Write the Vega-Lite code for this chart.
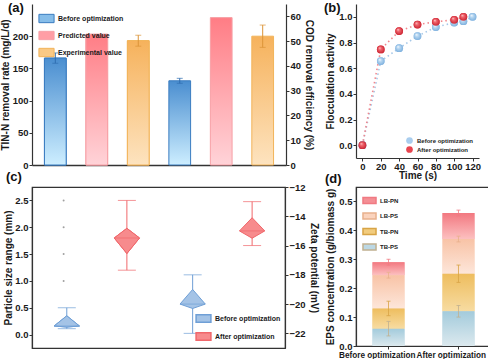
{
"$schema": "https://vega.github.io/schema/vega-lite/v6.json",
"padding": {"left": 0, "top": 2, "right": 0, "bottom": 0},
"background": "white",
"columns": 2,
"bounds": "flush",
"spacing": {"row": 22, "column": 70},
"resolve": {"scale": {"fill": "independent", "stroke": "independent", "color": "independent"}},
"config": {
  "font": "Liberation Sans",
  "view": {"stroke": null},
  "axis": {"grid": false, "labelFont": "Liberation Sans", "labelFontWeight": "bold", "labelFontSize": 9.5, "labelColor": "#1a1a1a", "titleFont": "Liberation Sans", "titleFontWeight": "bold", "titleFontSize": 10, "titleColor": "#1a1a1a", "domainColor": "#333333", "domainWidth": 1.2, "tickColor": "#333333", "tickWidth": 1, "tickSize": 3, "labelPadding": 1, "titlePadding": 1, "labelOverlap": false, "labelFlush": false},
  "legend": {"labelFont": "Liberation Sans", "labelFontWeight": "bold", "labelFontSize": 7, "labelColor": "#1a1a1a", "padding": 0, "rowPadding": 2, "labelOffset": 3, "labelLimit": 200},
  "title": {"font": "Liberation Sans", "fontWeight": "bold", "fontSize": 13, "anchor": "start", "color": "#111111", "baseline": "bottom", "offset": 0, "frame": "group"}
},
"datasets": {
  "aData": [
    {"metric": "TIN", "cat": "T1", "series": "Before optimization", "value": 166, "err": 8},
    {"metric": "TIN", "cat": "T2", "series": "Predicted value", "value": 203, "err": 0},
    {"metric": "TIN", "cat": "T3", "series": "Experimental value", "value": 193, "err": 8.5},
    {"metric": "COD", "cat": "C1", "series": "Before optimization", "value": 34, "err": 1},
    {"metric": "COD", "cat": "C2", "series": "Predicted value", "value": 59.5, "err": 0},
    {"metric": "COD", "cat": "C3", "series": "Experimental value", "value": 52, "err": 4.5}
  ],
  "bData": [
    {"s": "Before optimization", "t": 0, "v": 0},
    {"s": "Before optimization", "t": 20, "v": 0.655},
    {"s": "Before optimization", "t": 40, "v": 0.756},
    {"s": "Before optimization", "t": 60, "v": 0.85},
    {"s": "Before optimization", "t": 80, "v": 0.92},
    {"s": "Before optimization", "t": 100, "v": 0.955},
    {"s": "Before optimization", "t": 110, "v": 0.966},
    {"s": "Before optimization", "t": 120, "v": 1.0},
    {"s": "After optimization", "t": 0, "v": 0},
    {"s": "After optimization", "t": 20, "v": 0.746},
    {"s": "After optimization", "t": 40, "v": 0.889},
    {"s": "After optimization", "t": 60, "v": 0.94},
    {"s": "After optimization", "t": 80, "v": 0.961},
    {"s": "After optimization", "t": 100, "v": 0.977},
    {"s": "After optimization", "t": 110, "v": 1.0}
  ],
  "cDiaS": [
    {"g": "Before optimization", "x": 0.35, "hi": 0.16, "lo": 0.16},
    {"g": "Before optimization", "x": 0.55, "hi": 0.35, "lo": 0.14},
    {"g": "Before optimization", "x": 0.75, "hi": 0.16, "lo": 0.16},
    {"g": "After optimization", "x": 1.3, "hi": 1.8, "lo": 1.8},
    {"g": "After optimization", "x": 1.5, "hi": 1.98, "lo": 1.51},
    {"g": "After optimization", "x": 1.7, "hi": 1.8, "lo": 1.8}
  ],
  "cBoxS": [
    {"grp": "Before optimization", "x": 0.55, "min": 0.11, "max": 0.5, "med": 0.16},
    {"grp": "After optimization", "x": 1.5, "min": 1.2, "max": 2.5, "med": 1.8}
  ],
  "cOut": [
    {"x": 0.5, "y": 1.0},
    {"x": 0.5, "y": 1.5},
    {"x": 0.5, "y": 2.0},
    {"x": 0.5, "y": 2.5}
  ],
  "cDiaZ": [
    {"g": "Before optimization", "x": 2.34, "hi": -20, "lo": -20},
    {"g": "Before optimization", "x": 2.54, "hi": -19, "lo": -20.3},
    {"g": "Before optimization", "x": 2.74, "hi": -20, "lo": -20},
    {"g": "After optimization", "x": 3.28, "hi": -15, "lo": -15},
    {"g": "After optimization", "x": 3.48, "hi": -14.1, "lo": -15.5},
    {"g": "After optimization", "x": 3.68, "hi": -15, "lo": -15}
  ],
  "cBoxZ": [
    {"grp": "Before optimization", "x": 2.54, "min": -22, "max": -18, "med": -20},
    {"grp": "After optimization", "x": 3.48, "min": -16, "max": -13, "med": -15}
  ],
  "dData": [
    {"opt": "Before optimization", "comp": "TB-PS", "v": 0.06, "e": 0.025},
    {"opt": "Before optimization", "comp": "TB-PN", "v": 0.07, "e": 0.025},
    {"opt": "Before optimization", "comp": "LB-PS", "v": 0.115, "e": 0.01},
    {"opt": "Before optimization", "comp": "LB-PN", "v": 0.045, "e": 0.01},
    {"opt": "After optimization", "comp": "TB-PS", "v": 0.12, "e": 0.02},
    {"opt": "After optimization", "comp": "TB-PN", "v": 0.13, "e": 0.03},
    {"opt": "After optimization", "comp": "LB-PS", "v": 0.12, "e": 0.01},
    {"opt": "After optimization", "comp": "LB-PN", "v": 0.09, "e": 0.01}
  ]
},
"concat": [
{
  "width": 254, "height": 161,
  "title": {"text": "(a)", "dx": -24, "dy": 15},
  "data": {"name": "aData"},
  "encoding": {"x": {"field": "cat", "type": "nominal", "sort": ["T1","T2","T3","C1","C2","C3"], "scale": {"paddingInner": 0.476, "paddingOuter": 0.3}, "axis": {"labels": false, "ticks": false, "title": null, "domainWidth": 1.5}}},
  "layer": [
    {"transform": [{"filter": "datum.metric === 'TIN'"}],
     "encoding": {"y": {"field": "value", "type": "quantitative", "title": "TIN-N removal rate (mg/L/d)", "scale": {"domain": [0, 250], "nice": false}, "axis": {"values": [0,50,100,150,200], "title": "TIN-N removal rate (mg/L/d)", "titlePadding": 2}}},
     "layer": [
      {"mark": {"type": "bar", "strokeWidth": 1},
       "encoding": {
         "fill": {"field": "series", "type": "nominal", "scale": {"domain": ["Before optimization","Predicted value","Experimental value"], "range": ["#86bde9","#ff9ea5","#f9c985"]}, "legend": {"orient": "top-left", "title": null, "symbolType": "M-1,-0.55H1V0.55H-1Z", "symbolSize": 230, "offset": 6, "labelFontSize": 7, "rowPadding": 2, "symbolStrokeWidth": 1}},
         "stroke": {"field": "series", "type": "nominal", "scale": {"domain": ["Before optimization","Predicted value","Experimental value"], "range": ["#3a7cc0","#f7a0a6","#f2b45a"]}, "legend": {"orient": "top-left", "title": null, "symbolType": "M-1,-0.55H1V0.55H-1Z", "symbolSize": 230, "offset": 6, "labelFontSize": 7, "rowPadding": 2, "symbolStrokeWidth": 1}}
       }},
      {"transform": [{"filter": "datum.series === 'Before optimization'"}], "mark": {"type": "bar", "strokeWidth": 1, "stroke": "#3a7cc0", "fill": {"gradient": "linear", "x1": 0, "y1": 0, "x2": 0, "y2": 1, "stops": [{"offset": 0, "color": "#4a8ed0"}, {"offset": 1, "color": "#cdeeff"}]}}},
      {"transform": [{"filter": "datum.series === 'Predicted value'"}], "mark": {"type": "bar", "strokeWidth": 1, "stroke": "#f7a0a6", "fill": {"gradient": "linear", "x1": 0, "y1": 0, "x2": 0, "y2": 1, "stops": [{"offset": 0, "color": "#ff7d85"}, {"offset": 1, "color": "#ffd3d8"}]}}},
      {"transform": [{"filter": "datum.series === 'Experimental value'"}], "mark": {"type": "bar", "strokeWidth": 1, "stroke": "#f2b45a", "fill": {"gradient": "linear", "x1": 0, "y1": 0, "x2": 0, "y2": 1, "stops": [{"offset": 0, "color": "#f6b25c"}, {"offset": 1, "color": "#fde3bf"}]}}},
      {"transform": [{"filter": "datum.err > 0"}],
       "mark": {"type": "errorbar", "ticks": {"size": 6}, "thickness": 1},
       "encoding": {
         "yError": {"field": "err"},
         "color": {"field": "series", "type": "nominal", "scale": {"domain": ["Before optimization","Predicted value","Experimental value"], "range": ["#2f6db0","#f08a90","#dc9438"]}, "legend": null}
       }}
     ]},
    {"transform": [{"filter": "datum.metric === 'COD'"}],
     "encoding": {"y": {"field": "value", "type": "quantitative", "title": "COD removal efficiency (%)", "scale": {"domain": [0, 65], "nice": false}, "axis": {"orient": "right", "values": [0,10,20,30,40,50,60], "title": "COD removal efficiency (%)", "titlePadding": 3}}},
     "layer": [
      {"transform": [{"filter": "datum.series === 'Before optimization'"}], "mark": {"type": "bar", "strokeWidth": 1, "stroke": "#3a7cc0", "fill": {"gradient": "linear", "x1": 0, "y1": 0, "x2": 0, "y2": 1, "stops": [{"offset": 0, "color": "#4a8ed0"}, {"offset": 1, "color": "#cdeeff"}]}}},
      {"transform": [{"filter": "datum.series === 'Predicted value'"}], "mark": {"type": "bar", "strokeWidth": 1, "stroke": "#f7a0a6", "fill": {"gradient": "linear", "x1": 0, "y1": 0, "x2": 0, "y2": 1, "stops": [{"offset": 0, "color": "#ff7d85"}, {"offset": 1, "color": "#ffd3d8"}]}}},
      {"transform": [{"filter": "datum.series === 'Experimental value'"}], "mark": {"type": "bar", "strokeWidth": 1, "stroke": "#f2b45a", "fill": {"gradient": "linear", "x1": 0, "y1": 0, "x2": 0, "y2": 1, "stops": [{"offset": 0, "color": "#f6b25c"}, {"offset": 1, "color": "#fde3bf"}]}}},
      {"transform": [{"filter": "datum.err > 0"}],
       "mark": {"type": "errorbar", "ticks": {"size": 6}, "thickness": 1},
       "encoding": {
         "yError": {"field": "err"},
         "color": {"field": "series", "type": "nominal", "legend": null}
       }}
     ]}
  ],
  "resolve": {"scale": {"y": "independent"}}
},
{
  "width": 123, "height": 154,
  "title": {"text": "(b)", "dx": -32, "dy": 15},
  "data": {"name": "bData"},
  "encoding": {
    "x": {"field": "t", "type": "quantitative", "scale": {"domain": [-7, 127], "nice": false}, "axis": {"values": [0,20,40,60,80,100,120], "title": "Time (s)", "titlePadding": 0, "labelPadding": 0}},
    "y": {"field": "v", "type": "quantitative", "scale": {"domain": [-0.1, 1.1], "nice": false}, "axis": {"values": [0,0.2,0.4,0.6,0.8,1.0], "format": ".1f", "title": "Flocculation activity", "titlePadding": 3}}
  },
  "layer": [
    {"transform": [{"filter": "datum.s === 'Before optimization'"}], "mark": {"type": "line", "strokeDash": [1.5, 3], "strokeWidth": 1.6, "stroke": "#a6c8e8"}},
    {"transform": [{"filter": "datum.s === 'After optimization'"}], "mark": {"type": "line", "strokeDash": [1.5, 3], "strokeWidth": 1.6, "stroke": "#f2868c"}},
    {"mark": {"type": "point", "filled": true, "size": 60, "opacity": 1, "strokeWidth": 0},
     "encoding": {"fill": {"field": "s", "type": "nominal", "scale": {"domain": ["Before optimization","After optimization"], "range": ["#a9cdee","#e8454f"]}, "legend": {"orient": "bottom-right", "offset": 5, "title": null, "symbolType": "circle", "symbolSize": 45, "labelFontSize": 6, "rowPadding": 1}}}},
    {"transform": [{"filter": "datum.s === 'Before optimization'"}], "mark": {"type": "point", "filled": true, "size": 60, "opacity": 1, "strokeWidth": 0, "fill": {"gradient": "radial", "x1": 0.35, "y1": 0.3, "r1": 0, "x2": 0.5, "y2": 0.5, "r2": 0.55, "stops": [{"offset": 0, "color": "#ffffff"}, {"offset": 0.35, "color": "#b9d8f2"}, {"offset": 1, "color": "#7aaedc"}]}}},
    {"transform": [{"filter": "datum.s === 'After optimization'"}], "mark": {"type": "point", "filled": true, "size": 60, "opacity": 1, "strokeWidth": 0, "fill": {"gradient": "radial", "x1": 0.35, "y1": 0.3, "r1": 0, "x2": 0.5, "y2": 0.5, "r2": 0.55, "stops": [{"offset": 0, "color": "#ffe0e0"}, {"offset": 0.3, "color": "#f26a72"}, {"offset": 1, "color": "#c8202e"}]}}}
  ]
},
{
  "width": 253, "height": 161,
  "title": {"text": "(c)", "dx": -26, "dy": 6},
  "view": {"stroke": "#333333", "strokeWidth": 1.2},
  "encoding": {"x": {"field": "x", "type": "quantitative", "scale": {"domain": [0, 4], "nice": false}, "axis": null}},
  "layer": [
    {"layer": [
      {"data": {"name": "cDiaS"}, "mark": {"type": "area", "orient": "vertical", "strokeWidth": 1, "opacity": 1},
       "encoding": {"y": {"field": "hi", "type": "quantitative", "title": "Particle size range (mm)", "scale": {"domain": [-0.25, 2.75], "nice": false}, "axis": {"values": [0,0.5,1,1.5,2,2.5], "format": ".1f", "title": "Particle size range (mm)", "labelOverlap": false}}, "y2": {"field": "lo"},
         "fill": {"field": "g", "type": "nominal", "scale": {"domain": ["Before optimization","After optimization"], "range": ["#a4c3e6","#f78b8d"]}, "legend": {"orient": "bottom-right", "offset": 4, "title": null, "symbolType": "M-1,-0.5H1V0.5H-1Z", "symbolSize": 220, "labelFontSize": 7, "rowPadding": 2}},
         "stroke": {"field": "g", "type": "nominal", "scale": {"domain": ["Before optimization","After optimization"], "range": ["#6f9fd6","#f0676b"]}, "legend": {"orient": "bottom-right", "offset": 4, "title": null, "symbolType": "M-1,-0.5H1V0.5H-1Z", "symbolSize": 220, "labelFontSize": 7, "rowPadding": 2}}}},
      {"data": {"name": "cBoxS"}, "mark": {"type": "rule", "strokeWidth": 1},
       "encoding": {"y": {"field": "min", "type": "quantitative", "title": "Particle size range (mm)", "axis": {"values": [0,0.5,1,1.5,2,2.5], "format": ".1f", "title": "Particle size range (mm)", "labelOverlap": false}}, "y2": {"field": "max"},
         "color": {"field": "grp", "type": "nominal", "scale": {"domain": ["Before optimization","After optimization"], "range": ["#6f9fd6","#f0676b"]}, "legend": null}}},
      {"data": {"name": "cBoxS"}, "mark": {"type": "tick", "orient": "horizontal", "size": 18, "thickness": 1},
       "encoding": {"y": {"field": "min", "type": "quantitative", "title": "Particle size range (mm)", "axis": {"values": [0,0.5,1,1.5,2,2.5], "format": ".1f", "title": "Particle size range (mm)", "labelOverlap": false}}, "color": {"field": "grp", "type": "nominal", "legend": null}}},
      {"data": {"name": "cBoxS"}, "mark": {"type": "tick", "orient": "horizontal", "size": 18, "thickness": 1},
       "encoding": {"y": {"field": "max", "type": "quantitative", "title": "Particle size range (mm)", "axis": {"values": [0,0.5,1,1.5,2,2.5], "format": ".1f", "title": "Particle size range (mm)", "labelOverlap": false}}, "color": {"field": "grp", "type": "nominal", "legend": null}}},
      {"data": {"name": "cDiaS"}, "transform": [{"filter": "datum.g === 'Before optimization'"}], "mark": {"type": "area", "orient": "vertical", "strokeWidth": 1, "opacity": 1, "fill": "#a4c3e6", "stroke": "#6f9fd6"},
       "encoding": {"y": {"field": "hi", "type": "quantitative", "title": "Particle size range (mm)", "axis": {"values": [0,0.5,1,1.5,2,2.5], "format": ".1f", "title": "Particle size range (mm)", "labelOverlap": false}}, "y2": {"field": "lo"}}},
      {"data": {"name": "cDiaS"}, "transform": [{"filter": "datum.g === 'After optimization'"}], "mark": {"type": "area", "orient": "vertical", "strokeWidth": 1, "opacity": 1, "fill": "#f78b8d", "stroke": "#f0676b"},
       "encoding": {"y": {"field": "hi", "type": "quantitative", "title": "Particle size range (mm)", "axis": {"values": [0,0.5,1,1.5,2,2.5], "format": ".1f", "title": "Particle size range (mm)", "labelOverlap": false}}, "y2": {"field": "lo"}}},
      {"data": {"name": "cBoxS"}, "mark": {"type": "tick", "orient": "horizontal", "size": 25, "thickness": 1},
       "encoding": {"y": {"field": "med", "type": "quantitative", "title": "Particle size range (mm)", "axis": {"values": [0,0.5,1,1.5,2,2.5], "format": ".1f", "title": "Particle size range (mm)", "labelOverlap": false}}, "color": {"field": "grp", "type": "nominal", "legend": null}}},
      {"data": {"name": "cOut"}, "mark": {"type": "point", "filled": true, "size": 4, "color": "#a0a0a0", "opacity": 1},
       "encoding": {"y": {"field": "y", "type": "quantitative", "title": "Particle size range (mm)", "axis": {"values": [0,0.5,1,1.5,2,2.5], "format": ".1f", "title": "Particle size range (mm)", "labelOverlap": false}}}}
    ]},
    {"layer": [
      {"data": {"name": "cBoxZ"}, "mark": {"type": "rule", "strokeWidth": 1},
       "encoding": {"y": {"field": "min", "type": "quantitative", "title": "Zeta potential (mV)", "scale": {"domain": [-23, -12], "nice": false}, "axis": {"orient": "right", "values": [-22,-20,-18,-16,-14,-12], "title": "Zeta potential (mV)", "labelOverlap": false, "titlePadding": 3}}, "y2": {"field": "max"},
         "color": {"field": "grp", "type": "nominal", "scale": {"domain": ["Before optimization","After optimization"], "range": ["#6f9fd6","#f0676b"]}, "legend": null}}},
      {"data": {"name": "cBoxZ"}, "mark": {"type": "tick", "orient": "horizontal", "size": 18, "thickness": 1},
       "encoding": {"y": {"field": "min", "type": "quantitative", "title": "Zeta potential (mV)", "axis": {"orient": "right", "values": [-22,-20,-18,-16,-14,-12], "title": "Zeta potential (mV)", "labelOverlap": false, "titlePadding": 3}}, "color": {"field": "grp", "type": "nominal", "legend": null}}},
      {"data": {"name": "cBoxZ"}, "mark": {"type": "tick", "orient": "horizontal", "size": 18, "thickness": 1},
       "encoding": {"y": {"field": "max", "type": "quantitative", "title": "Zeta potential (mV)", "axis": {"orient": "right", "values": [-22,-20,-18,-16,-14,-12], "title": "Zeta potential (mV)", "labelOverlap": false, "titlePadding": 3}}, "color": {"field": "grp", "type": "nominal", "legend": null}}},
      {"data": {"name": "cDiaZ"}, "transform": [{"filter": "datum.g === 'Before optimization'"}], "mark": {"type": "area", "orient": "vertical", "strokeWidth": 1, "opacity": 1, "fill": "#a4c3e6", "stroke": "#6f9fd6"},
       "encoding": {"y": {"field": "hi", "type": "quantitative", "title": "Zeta potential (mV)", "axis": {"orient": "right", "values": [-22,-20,-18,-16,-14,-12], "title": "Zeta potential (mV)", "labelOverlap": false, "titlePadding": 3}}, "y2": {"field": "lo"}}},
      {"data": {"name": "cDiaZ"}, "transform": [{"filter": "datum.g === 'After optimization'"}], "mark": {"type": "area", "orient": "vertical", "strokeWidth": 1, "opacity": 1, "fill": "#f78b8d", "stroke": "#f0676b"},
       "encoding": {"y": {"field": "hi", "type": "quantitative", "title": "Zeta potential (mV)", "axis": {"orient": "right", "values": [-22,-20,-18,-16,-14,-12], "title": "Zeta potential (mV)", "labelOverlap": false, "titlePadding": 3}}, "y2": {"field": "lo"}}},
      {"data": {"name": "cBoxZ"}, "mark": {"type": "tick", "orient": "horizontal", "size": 25, "thickness": 1},
       "encoding": {"y": {"field": "med", "type": "quantitative", "title": "Zeta potential (mV)", "axis": {"orient": "right", "values": [-22,-20,-18,-16,-14,-12], "title": "Zeta potential (mV)", "labelOverlap": false, "titlePadding": 3}}, "color": {"field": "grp", "type": "nominal", "legend": null}}}
    ]},
    {"data": {"values": [{}]}, "mark": {"type": "rule", "color": "#333333", "strokeWidth": 1.2}, "encoding": {"x": {"datum": 2}}}
  ],
  "resolve": {"scale": {"y": "independent"}}
},
{
  "width": 135, "height": 159,
  "title": {"text": "(d)", "dx": -31, "dy": 3},
  "view": {"stroke": "#333333", "strokeWidth": 1.2},
  "data": {"name": "dData"},
  "transform": [{"stack": "v", "groupby": ["opt"], "sort": [{"field": "comp", "order": "descending"}], "as": ["y0", "y1"]}],
  "encoding": {
    "x": {"field": "opt", "type": "nominal", "sort": ["Before optimization","After optimization"], "scale": {"paddingInner": 0.543, "paddingOuter": 0.236}, "axis": {"title": null, "labelAngle": 0, "labelFontSize": 8.2, "labelPadding": 2, "labelAlign": {"expr": "datum.value === 'Before optimization' ? 'right' : 'left'"}, "labelOffset": {"expr": "datum.value === 'Before optimization' ? 27 : -42"}}},
    "y": {"field": "y0", "type": "quantitative", "title": "EPS concentration (g/biomass g)", "scale": {"domain": [0, 0.55], "nice": false}, "axis": {"values": [0,0.1,0.2,0.3,0.4,0.5], "format": ".1f", "title": "EPS concentration (g/biomass g)", "titlePadding": 3}},
    "y2": {"field": "y1"}
  },
  "layer": [
    {"mark": {"type": "bar"},
     "encoding": {
       "fill": {"field": "comp", "type": "nominal", "scale": {"domain": ["LB-PN","LB-PS","TB-PN","TB-PS"], "range": ["#f48f95","#fad3bd","#f2cc7e","#bcd8e4"]}, "legend": {"orient": "top-left", "title": null, "symbolType": "M-1,-0.45H1V0.45H-1Z", "symbolSize": 170, "labelFontSize": 6, "rowPadding": 1.5, "offset": 6}}
     }},
    {"transform": [{"filter": "datum.comp === 'LB-PN'"}], "mark": {"type": "bar", "fill": {"gradient": "linear", "x1": 0, "y1": 0, "x2": 0, "y2": 1, "stops": [{"offset": 0, "color": "#f27880"}, {"offset": 1, "color": "#fcc0c0"}]}}},
    {"transform": [{"filter": "datum.comp === 'LB-PS'"}], "mark": {"type": "bar", "fill": {"gradient": "linear", "x1": 0, "y1": 0, "x2": 0, "y2": 1, "stops": [{"offset": 0, "color": "#f8c3a6"}, {"offset": 1, "color": "#fde6da"}]}}},
    {"transform": [{"filter": "datum.comp === 'TB-PN'"}], "mark": {"type": "bar", "fill": {"gradient": "linear", "x1": 0, "y1": 0, "x2": 0, "y2": 1, "stops": [{"offset": 0, "color": "#eebd5e"}, {"offset": 1, "color": "#f7dca2"}]}}},
    {"transform": [{"filter": "datum.comp === 'TB-PS'"}], "mark": {"type": "bar", "fill": {"gradient": "linear", "x1": 0, "y1": 0, "x2": 0, "y2": 1, "stops": [{"offset": 0, "color": "#a3cbdc"}, {"offset": 1, "color": "#dce9ee"}]}}},
    {"mark": {"type": "errorbar", "ticks": {"size": 4}, "thickness": 1, "opacity": 0.8},
     "encoding": {
       "y": {"field": "y1", "type": "quantitative", "title": "EPS concentration (g/biomass g)"},
       "y2": null,
       "yError": {"field": "e"},
       "color": {"field": "comp", "type": "nominal", "scale": {"domain": ["LB-PN","LB-PS","TB-PN","TB-PS"], "range": ["#f07a82","#e8b08c","#d8a446","#c0b090"]}, "legend": null}
     }}
  ]
}
]
}
